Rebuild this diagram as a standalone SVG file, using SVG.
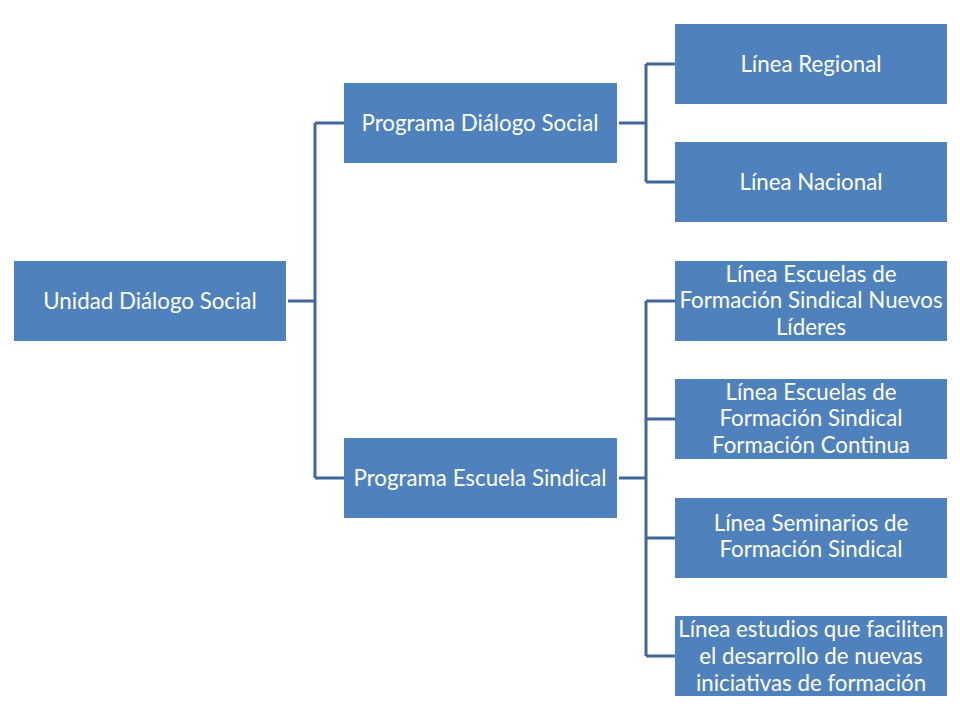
<svg xmlns="http://www.w3.org/2000/svg" width="960" height="720" viewBox="0 0 960 720">
<style>
.box{fill:#4f81bd;}
.t{fill:#ffffff;font-family:Lato,"Open Sans","Liberation Sans",sans-serif;font-size:22.3px;text-anchor:middle;dominant-baseline:central;}
.c{fill:none;stroke:#41679a;stroke-width:3;}
</style>
<rect width="960" height="720" fill="#ffffff"/>
<g id="connectors">
<path class="c" d="M288,301 H315 M315,123 V478 M315,123 H344 M315,478 H344"/>
<path class="c" d="M619,123 H646 M646,64 V182 M646,64 H675 M646,182 H675"/>
<path class="c" d="M619,478 H646 M646,301 V656 M646,301 H675 M646,419 H675 M646,538 H675 M646,656 H675"/>
</g>
<g id="root"><rect class="box" x="14" y="261" width="272" height="80"/><text class="t" x="150" y="300">Unidad Diálogo Social</text></g>
<g id="prog1"><rect class="box" x="344" y="83" width="273" height="80"/><text class="t" x="480" y="122">Programa Diálogo Social</text></g>
<g id="prog2"><rect class="box" x="344" y="438" width="273" height="80"/><text class="t" x="480" y="477">Programa Escuela Sindical</text></g>
<g id="leaf1"><rect class="box" x="675" y="24" width="272" height="80"/><text class="t" x="811" y="63">Línea Regional</text></g>
<g id="leaf2"><rect class="box" x="675" y="142" width="272" height="80"/><text class="t" x="811" y="181">Línea Nacional</text></g>
<g id="leaf3"><rect class="box" x="675" y="261" width="272" height="80"/><text class="t" x="811" y="273">Línea Escuelas de</text><text class="t" x="811" y="299">Formación Sindical Nuevos</text><text class="t" x="811" y="326">Líderes</text></g>
<g id="leaf4"><rect class="box" x="675" y="379" width="272" height="80"/><text class="t" x="811" y="391">Línea Escuelas de</text><text class="t" x="811" y="417">Formación Sindical</text><text class="t" x="811" y="444">Formación Continua</text></g>
<g id="leaf5"><rect class="box" x="675" y="498" width="272" height="80"/><text class="t" x="811" y="522">Línea Seminarios de</text><text class="t" x="811" y="548">Formación Sindical</text></g>
<g id="leaf6"><rect class="box" x="675" y="616" width="272" height="80"/><text class="t" x="811" y="628">Línea estudios que faciliten</text><text class="t" x="811" y="655">el desarrollo de nuevas</text><text class="t" x="811" y="682">iniciativas de formación</text></g>
</svg>
